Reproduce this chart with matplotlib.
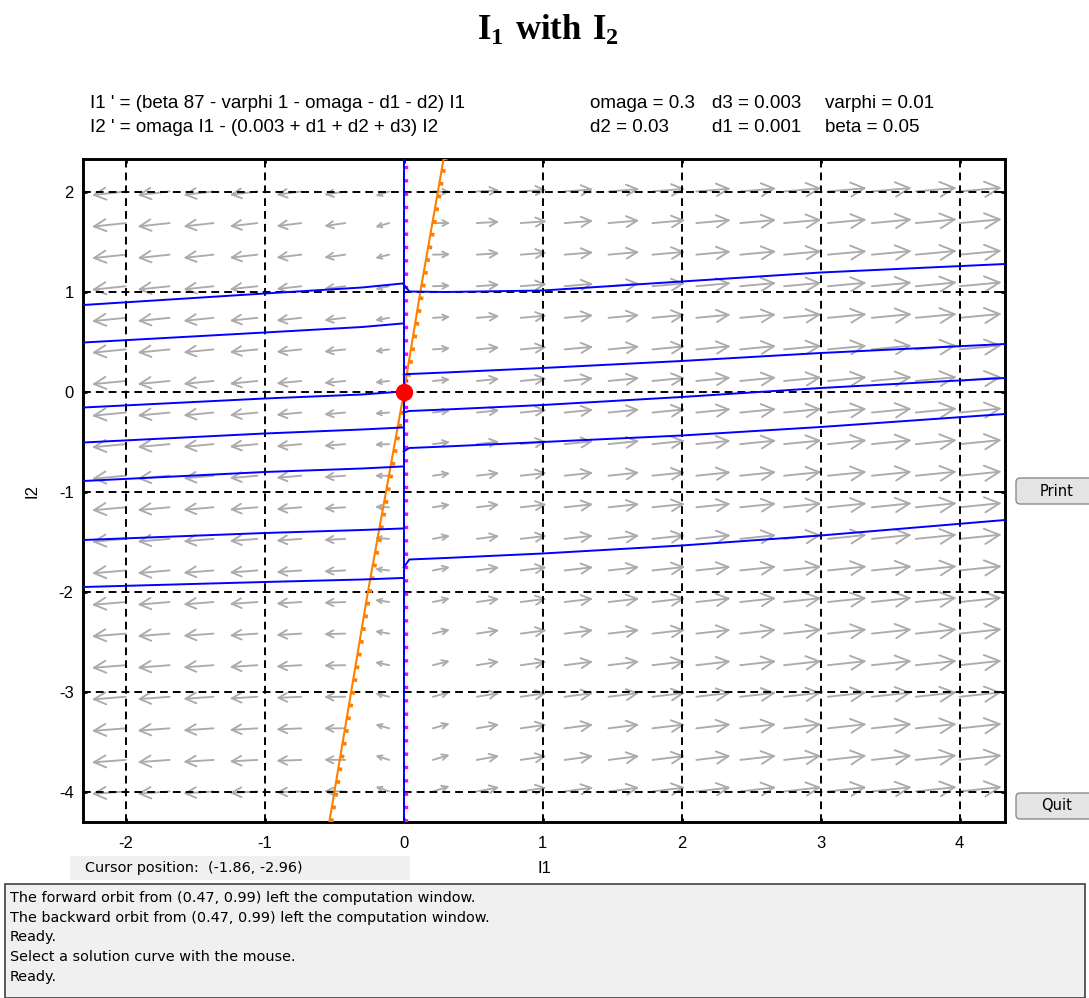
import numpy as np
import matplotlib
matplotlib.use("Agg")
import matplotlib.pyplot as plt
import matplotlib.transforms as mtransforms
from matplotlib.collections import LineCollection
from matplotlib.patches import FancyBboxPatch, Rectangle

plt.rcParams["font.family"] = ["Liberation Sans", "DejaVu Sans"]
plt.rcParams["mathtext.fontset"] = "custom"
plt.rcParams["mathtext.rm"] = "Liberation Serif"
plt.rcParams["mathtext.bf"] = "Liberation Serif:bold"
plt.rcParams["axes.unicode_minus"] = False

# ---- model parameters ----
beta = 0.05
varphi = 0.01
omaga = 0.3
d1 = 0.001
d2 = 0.03
d3 = 0.003

# ---- display window ----
i1_range = (-2.305, 4.326)
i2_range = (-4.305, 2.325)
i1_ticks = [-2, -1, 0, 1, 2, 3, 4]
i2_ticks = [-4, -3, -2, -1, 0, 1, 2]

# direction-field sample points
field_i1 = np.linspace(-2, 4, 20)
field_i2 = np.linspace(-4, 2, 20)

# ---- solution curves ----
left_i1 = [-2.305, -1.0, -0.3, -0.01]
left_orbits_i2 = [
    [0.865, 0.98, 1.04, 1.08],
    [0.49, 0.59, 0.645, 0.68],
    [-0.16, -0.07, -0.03, 0.0],
    [-0.51, -0.42, -0.38, -0.36],
    [-0.895, -0.805, -0.77, -0.75],
    [-1.485, -1.415, -1.385, -1.37],
    [-1.955, -1.905, -1.88, -1.865],
]
right_i1 = [0.0, 0.04, 0.3, 1.0, 2.0, 3.0, 4.326]
right_orbits_i2 = [
    [1.07, 1.0, 0.995, 1.01, 1.10, 1.19, 1.275],
    [0.17, 0.175, 0.19, 0.235, 0.305, 0.385, 0.475],
    [-0.21, -0.195, -0.18, -0.135, -0.055, 0.035, 0.135],
    [-0.6, -0.565, -0.55, -0.505, -0.44, -0.355, -0.225],
    [-1.76, -1.68, -1.665, -1.62, -1.54, -1.44, -1.285],
]

# I2 nullcline
nullcline_i1 = [-0.535, -0.257, -0.01, 0.12, 0.287]
nullcline_i2 = [-4.305, -2.0, -0.1, 1.0, 2.325]

# equilibrium point
equilibrium = (0.0, 0.0)

eq_lines = ["I1 ' = (beta 87 - varphi 1 - omaga - d1 - d2) I1",
            "I2 ' = omaga I1 - (0.003 + d1 + d2 + d3) I2"]
param_rows = [["omaga = 0.3", "d3 = 0.003", "varphi = 0.01"],
              ["d2 = 0.03", "d1 = 0.001", "beta = 0.05"]]
messages = ["The forward orbit from (0.47, 0.99) left the computation window.",
            "The backward orbit from (0.47, 0.99) left the computation window.",
            "Ready.",
            "Select a solution curve with the mouse.",
            "Ready."]
cursor_text = "Cursor position:  (-1.86, -2.96)"


def field(i1, i2):
    di1 = (beta * 87 - varphi * 1 - omaga - d1 - d2) * i1
    di2 = omaga * i1 - (0.003 + d1 + d2 + d3) * i2
    return di1, di2


W, H = 1089, 998
fig = plt.figure(figsize=(W / 100, H / 100), dpi=100)
fig.patch.set_facecolor("white")

ax_l, ax_r, ax_t, ax_b = 83.3, 1005, 159, 822
ax = fig.add_axes([ax_l / W, 1 - ax_b / H, (ax_r - ax_l) / W, (ax_b - ax_t) / H])
ax.set_xlim(*i1_range)
ax.set_ylim(*i2_range)

# pixel scale of the axes
sx = (ax_r - ax_l) / (i1_range[1] - i1_range[0])
sy = (ax_b - ax_t) / (i2_range[1] - i2_range[0])

# ---- direction field arrows (tail at sample point, cube-root length scaling) ----
segs = []
head_ang = np.deg2rad(27)
for a in field_i1:
    for b in field_i2:
        vx, vy = field(a, b)
        px, py = vx * sx, vy * sy * 1.8
        mag = np.hypot(px, py)
        if mag == 0:
            continue
        L = 3.06 * mag ** (1 / 3)
        ux, uy = px / mag, py / mag
        tip = (a + L * ux / sx, b + L * uy / sy)
        segs.append([(a, b), tip])
        hl = 0.42 * L
        for ang in (head_ang, -head_ang):
            c, s = np.cos(ang), np.sin(ang)
            bx = -(ux * c - uy * s) * hl
            by = -(ux * s + uy * c) * hl
            segs.append([tip, (tip[0] + bx / sx, tip[1] + by / sy)])
ax.add_collection(LineCollection(segs, colors="#ababab", linewidths=1.35,
                                 capstyle="round", zorder=1))

# ---- grid ----
for t in i1_ticks:
    ax.axvline(t, color="black", lw=1.4, ls=(0, (4, 2.6)), zorder=2)
for t in i2_ticks:
    ax.axhline(t, color="black", lw=1.4, ls=(0, (4, 2.6)), zorder=2)

# ---- nullclines ----
shift = mtransforms.offset_copy(ax.transData, fig=fig, x=2, y=0, units="dots")
ax.plot([0, 0], i2_range, color="#ff00ff", lw=2.4, ls=(0, (1, 3)), transform=shift, zorder=3)
ax.plot(nullcline_i1, nullcline_i2, color="#ff8000", lw=1.5, zorder=4)
ax.plot(nullcline_i1, nullcline_i2, color="#ff8000", lw=3.0, ls=(0, (0.9, 2.2)),
        transform=shift, zorder=4)

# ---- solution curves ----
ax.plot([0, 0], i2_range, color="#0000ff", lw=1.4, zorder=5)
for ys in left_orbits_i2:
    ax.plot(left_i1, ys, color="#0000ff", lw=1.4, zorder=5)
for ys in right_orbits_i2:
    ax.plot(right_i1, ys, color="#0000ff", lw=1.4, zorder=5)

ax.plot([equilibrium[0]], [equilibrium[1]], "o", color="#ff0000", ms=11.5, zorder=6)

# ---- axes styling ----
ax.set_xticks(i1_ticks)
ax.set_yticks(i2_ticks)
ax.tick_params(direction="in", length=3, width=2.0, top=True, right=True,
               labelsize=12, pad=7)
ax.tick_params(axis="x", pad=10)
for sp in ax.spines.values():
    sp.set_linewidth(2.1)
ax.set_xlabel("I1", fontsize=12, labelpad=7)
ax.set_ylabel("I2", fontsize=12, labelpad=14)

# ---- title and equation text ----
fig.text(548 / W, 1 - 30 / H, r"$\mathbf{I_1\ with\ I_2}$",
         ha="center", va="center", fontsize=25)
for k, line in enumerate(eq_lines):
    fig.text(90 / W, 1 - (103 + 25 * k) / H, line, fontsize=13.5, va="center", ha="left")
col_x = [590, 712, 825]
for k, row in enumerate(param_rows):
    for cx, s in zip(col_x, row):
        fig.text(cx / W, 1 - (103 + 25 * k) / H, s, fontsize=13.5, va="center", ha="left")

# ---- status area ----
status_font = "DejaVu Sans"
fig.patches.append(Rectangle((70 / W, 1 - 880 / H), 340 / W, 24 / H, transform=fig.transFigure,
                             facecolor="#f0f0f0", edgecolor="none"))
fig.text(85 / W, 1 - 868 / H, cursor_text, fontsize=10.4, family=status_font,
         va="center", ha="left")
fig.patches.append(Rectangle((5 / W, 0), 1080 / W, 114 / H, transform=fig.transFigure,
                             facecolor="#f0f0f0", edgecolor="#404040", lw=1.2))
for k, m in enumerate(messages):
    fig.text(10 / W, 1 - (898 + 19.7 * k) / H, m, fontsize=10.4, family=status_font,
             va="center", ha="left")

# ---- buttons ----
for label, yc in [("Print", 491), ("Quit", 806)]:
    fig.patches.append(FancyBboxPatch((1016 / W, 1 - (yc + 13) / H), 80 / W, 26 / H,
                                      boxstyle="round,pad=0,rounding_size=0.004",
                                      transform=fig.transFigure, facecolor="#e4e4e4",
                                      edgecolor="#8c8c8c", lw=1.0))
    fig.text(1057 / W, 1 - yc / H, label, fontsize=10.5, family=status_font,
             va="center", ha="center")

fig.savefig("out.png", dpi=100)
